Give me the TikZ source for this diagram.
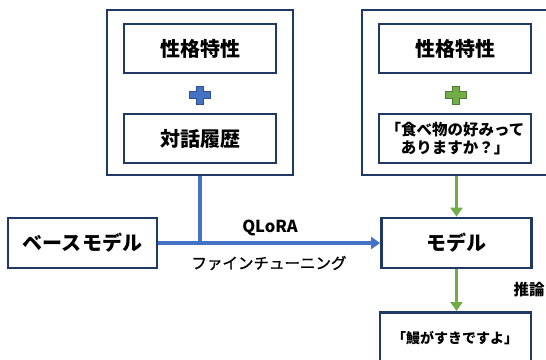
\documentclass[tikz,border=0pt]{standalone}
\usepackage{fontspec}
\setmainfont{Noto Sans CJK JP}
\newfontfamily\jpmed{Noto Sans CJK JP}[FakeBold=1.2]
\usetikzlibrary{arrows.meta}
\definecolor{navy}{HTML}{1F3864}
\definecolor{lblue}{HTML}{4472C4}
\definecolor{lgreen}{HTML}{70AD47}
\tikzset{
  outerbox/.style={draw=navy,line width=2.8pt,fill=white,inner sep=0pt},
  innerbox/.style={draw=navy,line width=2.8pt,fill=white,inner sep=0pt,align=center},
  bluearrow/.style={draw=lblue,line width=3.4pt},
  greenarrow/.style={draw=lgreen,line width=3.6pt},
  tip/.style={-{Triangle[width=12pt,length=9pt]}},
  bigtxt/.style={font=\fontsize{20}{24}\selectfont\bfseries},
  lbl/.style={font=\fontsize{16.5}{19}\selectfont\bfseries},
}
\begin{document}
\begin{tikzpicture}[x=1pt,y=-1pt]
\useasboundingbox (0,0) rectangle (546,359);
\clip (0,0) rectangle (546,359);
% outer boxes
\node[outerbox,minimum width=186pt,minimum height=165pt] (leftouter) at (200,92.5) {};
\node[outerbox,minimum width=200pt,minimum height=165pt] (rightouter) at (462,92.5) {};
% inner boxes left
\node[innerbox,minimum width=152pt,minimum height=49pt,bigtxt] (trait1) at (200,48.5) {性格特性};
\node[innerbox,minimum width=152pt,minimum height=49pt,bigtxt] (hist) at (200,138.5) {対話履歴};
% inner boxes right
\node[innerbox,minimum width=152pt,minimum height=49pt,font=\fontsize{15.5}{18.5}\selectfont\bfseries] (trait2q) at (455,138.5) {「食べ物の好みって\\ ありますか？」};
\node[innerbox,minimum width=152pt,minimum height=49pt,bigtxt] (trait2) at (455,48.5) {性格特性};
% plus marks
\fill[lblue,draw=lblue!70!black,line width=0.6pt]
  (196.5,86) -- (203.5,86) -- (203.5,91.5) -- (210.5,91.5) -- (210.5,98.5) -- (203.5,98.5)
  -- (203.5,104) -- (196.5,104) -- (196.5,98.5) -- (189.5,98.5) -- (189.5,91.5) -- (196.5,91.5) -- cycle;
\fill[lgreen,draw=lgreen!70!black,line width=0.6pt]
  (452,86) -- (459,86) -- (459,91.5) -- (466,91.5) -- (466,98.5) -- (459,98.5)
  -- (459,104) -- (452,104) -- (452,98.5) -- (445,98.5) -- (445,91.5) -- (452,91.5) -- cycle;
% middle row
\node[innerbox,minimum width=149pt,minimum height=50pt,bigtxt] (base) at (82.5,243) {ベースモデル};
\node[innerbox,minimum width=150pt,minimum height=50pt,bigtxt] (model) at (456.5,243) {モデル};
\node[innerbox,minimum width=151pt,minimum height=70pt,anchor=north] (answer) at (455.5,311) {};
\node[font=\fontsize{14}{17}\selectfont\bfseries] (answertext) at (455,338) {「鰻がすきですよ」};
% connectors
\coordinate (join) at (leftouter.south |- base.east);
\draw[bluearrow] (leftouter.south) -- (join);
\draw[bluearrow,tip] (base.east) -- (model.west);
\draw[greenarrow,tip] (rightouter.south -| model.north) -- (model.north);
\draw[greenarrow,tip] (model.south) -- (model.south |- answer.north);
% labels
\node[lbl] (qlora) at (270,228) {QLoRA};
\node[font=\fontsize{15.5}{18}\jpmed\selectfont] (ft) at (269,263) {ファインチューニング};
\node[font=\fontsize{15.5}{19}\selectfont\bfseries,anchor=west] (infer) at (510,290) {推論};
\end{tikzpicture}
\end{document}
